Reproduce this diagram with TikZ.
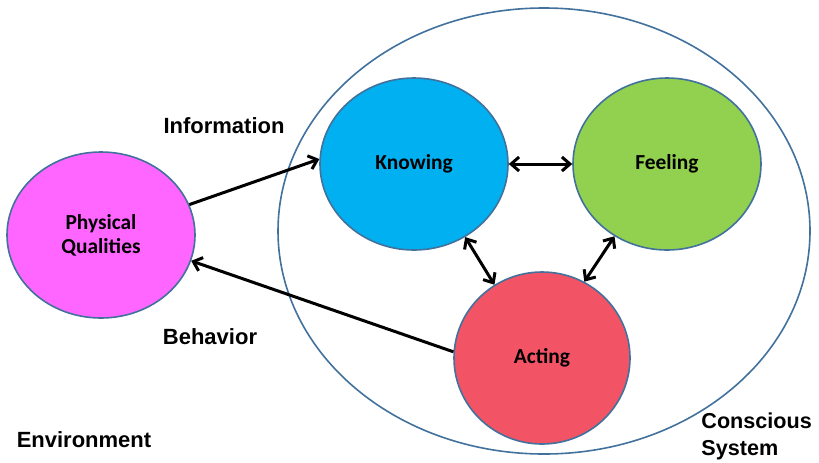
\documentclass[tikz,border=0pt]{standalone}
\usepackage{fontspec}
\setmainfont{Liberation Sans}
\newfontfamily\calib{Carlito}
\usetikzlibrary{shapes.geometric,arrows.meta}
\definecolor{rim}{RGB}{65,113,156}
\definecolor{pinkq}{RGB}{255,102,255}
\definecolor{blueq}{RGB}{0,176,240}
\definecolor{greenq}{RGB}{146,208,80}
\definecolor{redq}{RGB}{242,84,102}
\tikzset{
  blob/.style={ellipse,draw=rim,line width=0.8pt,inner sep=0pt,
    font=\calib\bfseries\fontsize{10.7}{12}\selectfont,align=center},
  word/.style={font=\bfseries\fontsize{11}{13.5}\selectfont},
  link/.style={line width=1.5pt,{Straight Barb[length=4pt,width=7pt]}-{Straight Barb[length=4pt,width=7pt]}},
  push/.style={line width=1.5pt,-{Straight Barb[length=4pt,width=7pt]}}
}
\begin{document}
\begin{tikzpicture}[x=0.5pt,y=-0.5pt]
      \useasboundingbox (0,0) rectangle (819,462);
      \draw[rim,line width=0.8pt] (544,231) ellipse [x radius=133pt,y radius=111.5pt];
      \draw
        (101,235) node[blob,fill=pinkq,minimum width=94pt,minimum height=83pt] (phys){Physical\\Qualities}
        (414,164) node[blob,fill=blueq,minimum width=94pt,minimum height=86pt] (know){Knowing}
        (667,164) node[blob,fill=greenq,minimum width=94pt,minimum height=86pt] (feel){Feeling}
        (542,358) node[blob,fill=redq,minimum width=88pt,minimum height=86pt] (act){Acting};
      \draw
        (224,126) node[word] (info){Information}
        (210,337) node[word] (behav){Behavior}
        (84,440) node[word] (env){Environment}
        (701,436) node[word,anchor=west,align=left,inner sep=0pt,font=\bfseries\fontsize{10.8}{13.5}\selectfont] (csys){Conscious\\System};
      \begin{scope}
        \draw[push] (phys.19) to (know.177);
        \draw[push] (act.176) to (phys.344);
        \draw[link] (know.east) to (feel.west);
        \draw[link] (know.305) to (act.123);
        \draw[link] (feel.234) to (act.61);
      \end{scope}
    \end{tikzpicture}
\end{document}
